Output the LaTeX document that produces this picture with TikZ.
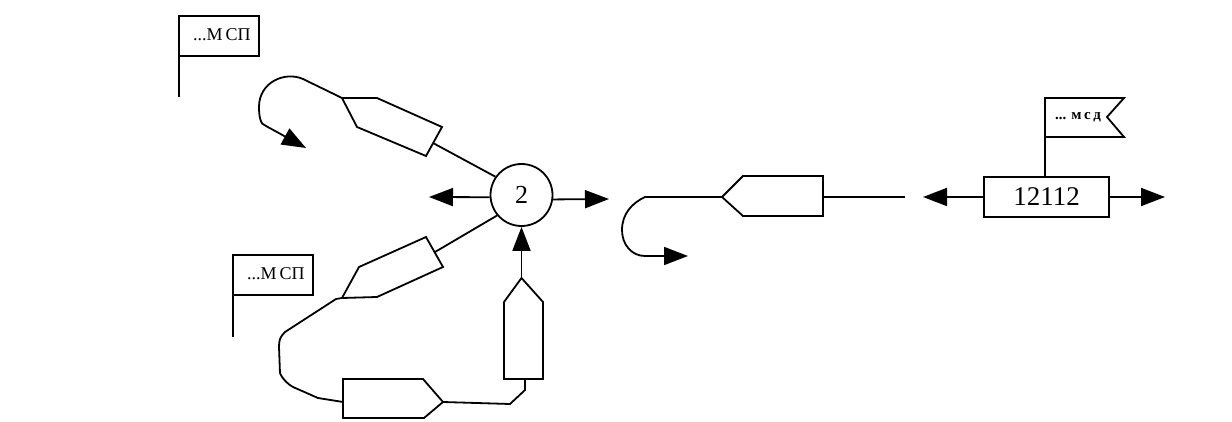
\documentclass[tikz,border=0pt]{standalone}
\usepackage{fontspec}
\setmainfont{Liberation Serif}
\usetikzlibrary{arrows.meta}
\tikzset{
  flow/.style={-{Triangle[length=24pt,width=18pt]}},
  hull/.style={draw,line join=miter},
  tag/.style={draw,inner sep=0pt,outer sep=0pt,minimum width=80pt,minimum height=40pt},
  taglabel/.style={font=\fontsize{18}{18}\selectfont},
}
\begin{document}
\begin{tikzpicture}[x=1pt,y=-1pt,line width=1.8pt]
    \useasboundingbox (0,0) rectangle (1232,422);

    % hub and yard box
    \node[draw,circle,inner sep=0pt,minimum size=62pt,font=\fontsize{26}{26}\selectfont] (hub) at (521.5,195) {2};
    \node[draw,inner sep=0pt,minimum width=125pt,minimum height=40pt,font=\fontsize{27}{27}\selectfont] (yard) at (1046.5,197) {12112};

    \coordinate (hubl) at (429,197);
    \coordinate (hubr) at (609,199);
    \coordinate (yardl) at (923,197);
    \coordinate (yardr) at (1165,197);
    \draw[flow] (hub.184) -- (hubl);
    \draw[flow] (hub.352) -- (hubr);
    \draw[flow] (yard.west) -- (yardl);
    \draw[flow] (yard.east) -- (yardr);

    % upper left
    \coordinate (a1) at (342,98);
    \coordinate (a2) at (377,98);
    \coordinate (a3) at (442,127);
    \coordinate (a4) at (426,156);
    \coordinate (a5) at (357,127);
    \coordinate (ab) at (433,143);
    \coordinate (ae) at (306,148);
    \draw[hull] (a1) -- (a2) -- (a3) -- (a4) -- (a5) -- cycle;
    \draw (ab) -- (hub.145);
    \draw[flow] (a1) -- (303,79) .. controls (285,71) and (259,82) .. (259,107)
      .. controls (259,115) and (260,125) .. (266,126) -- (ae);

    % lower left
    \coordinate (b1) at (342,298);
    \coordinate (b2) at (359,267);
    \coordinate (b3) at (426,237);
    \coordinate (b4) at (443,267);
    \coordinate (b5) at (377,297);
    \coordinate (bb) at (435,252);
    \draw[hull] (b1) -- (b2) -- (b3) -- (b4) -- (b5) -- cycle;
    \draw (bb) -- (hub.220);

    % bottom
    \coordinate (c1) at (343,379);
    \coordinate (c2) at (423,379);
    \coordinate (c3) at (443,402);
    \coordinate (c4) at (424,418);
    \coordinate (c5) at (343,418);
    \coordinate (cb) at (343,402);
    \draw[hull] (c1) -- (c2) -- (c3) -- (c4) -- (c5) -- cycle;
    \draw (b1) -- (336,299) -- (285,332) .. controls (280,337) and (279,340) .. (279,347)
      -- (280,373) .. controls (283,380) and (288,384) .. (293,387) -- (318,398) -- (cb);

    % vertical
    \coordinate (d1) at (521.5,278);
    \coordinate (d2) at (543,302);
    \coordinate (d3) at (543,379);
    \coordinate (d4) at (504,379);
    \coordinate (d5) at (504,302);
    \coordinate (db) at (525,379);
    \draw[hull] (d1) -- (d2) -- (d3) -- (d4) -- (d5) -- cycle;
    \draw[flow] (d1) -- (hub);
    \draw (c3) -- (510,404) -- (525,390) -- (db);

    % right side
    \coordinate (e1) at (722,197);
    \coordinate (e2) at (743,176);
    \coordinate (e3) at (823,176);
    \coordinate (e4) at (823,216);
    \coordinate (e5) at (743,216);
    \coordinate (eb) at (823,197);
    \coordinate (ef) at (905,197);
    \coordinate (ee) at (688,256);
    \draw[hull] (e1) -- (e2) -- (e3) -- (e4) -- (e5) -- cycle;
    \draw (eb) -- (ef);
    \draw[flow] (e1) -- (645,197) .. controls (632,203) and (622,214) .. (622,230)
      .. controls (622,245) and (632,256) .. (645,256) -- (ee);

    % flags
    \node[tag] (fa) at (219,36) {};
    \node[taglabel] (fat) at (222,35) {...М\,СП};
    \coordinate (fap) at (179,97);
    \draw (fa.south west) -- (fap);

    \node[tag] (fb) at (273,275) {};
    \node[taglabel] (fbt) at (276,274) {...М\,СП};
    \coordinate (fbp) at (233,337);
    \draw (fb.south west) -- (fbp);

    \coordinate (g1) at (1045,98);
    \coordinate (g2) at (1124,98);
    \coordinate (g3) at (1107,117);
    \coordinate (g4) at (1124,137);
    \coordinate (g5) at (1045,137);
    \draw[hull] (g1) -- (g2) -- (g3) -- (g4) -- (g5) -- cycle;
    \node[font=\bfseries\fontsize{15}{15}\selectfont] (gt) at (1078,117) {...\,\,м\,с\,д};
    \coordinate (gp) at (1045,177);
    \draw (g5) -- (gp);
\end{tikzpicture}
\end{document}
